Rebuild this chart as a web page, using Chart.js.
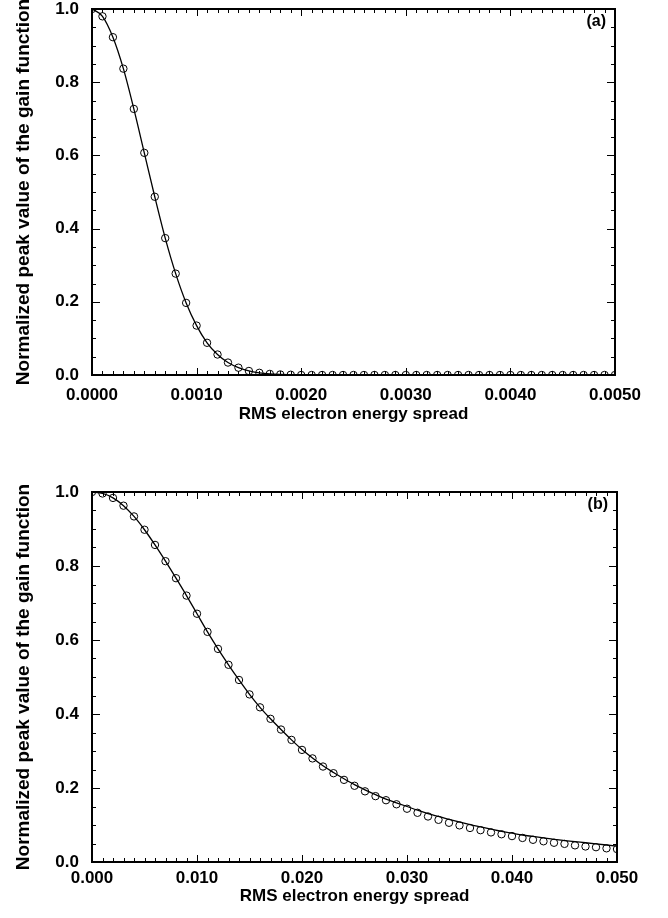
<!DOCTYPE html>
<html>
<head>
<meta charset="utf-8">
<script src="https://cdn.jsdelivr.net/npm/chart.js@4.4.0/dist/chart.umd.min.js"></script>
<style>
  body { margin: 0; background: #fff; }
  .box { position: absolute; left: 0; width: 668px; height: 459px; }
</style>
</head>
<body>
<div class="box" style="top:0px"><canvas id="chartA" width="668" height="459"></canvas></div>
<div class="box" style="top:459px"><canvas id="chartB" width="668" height="459"></canvas></div>
<script>
// panel (a): energy spread 0 .. 0.005
var spreadA = [
  0.0000, 0.0001, 0.0002, 0.0003, 0.0004, 0.0005, 0.0006, 0.0007, 0.0008, 0.0009,
  0.0010, 0.0011, 0.0012, 0.0013, 0.0014, 0.0015, 0.0016, 0.0017, 0.0018, 0.0019,
  0.0020, 0.0021, 0.0022, 0.0023, 0.0024, 0.0025, 0.0026, 0.0027, 0.0028, 0.0029,
  0.0030, 0.0031, 0.0032, 0.0033, 0.0034, 0.0035, 0.0036, 0.0037, 0.0038, 0.0039,
  0.0040, 0.0041, 0.0042, 0.0043, 0.0044, 0.0045, 0.0046, 0.0047, 0.0048, 0.0049,
  0.0050
];
var gainA = [
  1.000, 0.980, 0.923, 0.837, 0.727, 0.607, 0.487, 0.374, 0.277, 0.197,
  0.135, 0.088, 0.056, 0.034, 0.020, 0.011, 0.006, 0.003, 0.0015, 0.0007,
  0, 0, 0, 0, 0, 0, 0, 0, 0, 0,
  0, 0, 0, 0, 0, 0, 0, 0, 0, 0,
  0, 0, 0, 0, 0, 0, 0, 0, 0, 0,
  0
];
var ticksA = [0.0000, 0.0010, 0.0020, 0.0030, 0.0040, 0.0050];

// panel (b): energy spread 0 .. 0.05
var spreadB = [
  0.000, 0.001, 0.002, 0.003, 0.004, 0.005, 0.006, 0.007, 0.008, 0.009,
  0.010, 0.011, 0.012, 0.013, 0.014, 0.015, 0.016, 0.017, 0.018, 0.019,
  0.020, 0.021, 0.022, 0.023, 0.024, 0.025, 0.026, 0.027, 0.028, 0.029,
  0.030, 0.031, 0.032, 0.033, 0.034, 0.035, 0.036, 0.037, 0.038, 0.039,
  0.040, 0.041, 0.042, 0.043, 0.044, 0.045, 0.046, 0.047, 0.048, 0.049,
  0.050
];
// circles
var gainB = [
  1.000, 0.996, 0.984, 0.963, 0.934, 0.898, 0.857, 0.813, 0.767, 0.720,
  0.671, 0.622, 0.576, 0.533, 0.492, 0.453, 0.418, 0.387, 0.358, 0.330,
  0.303, 0.280, 0.258, 0.240, 0.222, 0.206, 0.191, 0.178, 0.167, 0.156,
  0.144, 0.133, 0.123, 0.114, 0.106, 0.099, 0.092, 0.086, 0.080, 0.075,
  0.070, 0.065, 0.060, 0.056, 0.052, 0.049, 0.045, 0.042, 0.040, 0.037,
  0.035
];
// solid curve, sits a little above the circles in the tail
var curveB = [
  1.000, 0.996, 0.984, 0.963, 0.934, 0.898, 0.857, 0.813, 0.767, 0.720,
  0.671, 0.622, 0.576, 0.533, 0.492, 0.453, 0.418, 0.387, 0.358, 0.330,
  0.304, 0.281, 0.260, 0.242, 0.225, 0.209, 0.195, 0.182, 0.170, 0.160,
  0.150, 0.140, 0.131, 0.123, 0.115, 0.108, 0.101, 0.095, 0.089, 0.083,
  0.078, 0.073, 0.069, 0.065, 0.061, 0.058, 0.055, 0.052, 0.049, 0.046,
  0.043
];
var ticksB = [0.000, 0.010, 0.020, 0.030, 0.040, 0.050];
var ticksY = [0.0, 0.2, 0.4, 0.6, 0.8, 1.0];

var FONT = "'Liberation Sans', Arial, Helvetica, sans-serif";

function pairs(xs, ys) {
  return xs.map(function (x, i) { return { x: x, y: ys[i] }; });
}

// box, inward ticks on all four sides and the panel letter
var frameTicks = {
  id: 'frameTicks',
  afterDraw: function (chart, args, opts) {
    var ctx = chart.ctx, a = chart.chartArea;
    var x = chart.scales.x, y = chart.scales.y;
    ctx.save();
    ctx.strokeStyle = '#000';
    ctx.lineWidth = 1;
    var nx = Math.round((x.max - x.min) / opts.xMinor);
    for (var i = 0; i <= nx; i++) {
      var px = Math.round(x.getPixelForValue(x.min + i * opts.xMinor)) + 0.5;
      var len = (i % opts.xEvery === 0) ? 7 : 4;
      ctx.beginPath();
      ctx.moveTo(px, a.bottom); ctx.lineTo(px, a.bottom - len);
      ctx.moveTo(px, a.top); ctx.lineTo(px, a.top + len);
      ctx.stroke();
    }
    var ny = Math.round((y.max - y.min) / opts.yMinor);
    for (var j = 0; j <= ny; j++) {
      var py = Math.round(y.getPixelForValue(y.min + j * opts.yMinor)) + 0.5;
      var ylen = (j % opts.yEvery === 0) ? 8 : 4;
      ctx.beginPath();
      ctx.moveTo(a.left, py); ctx.lineTo(a.left + ylen, py);
      ctx.moveTo(a.right, py); ctx.lineTo(a.right - ylen, py);
      ctx.stroke();
    }
    ctx.lineWidth = 2;
    ctx.strokeRect(a.left, a.top, a.right - a.left, a.bottom - a.top);
    ctx.fillStyle = '#000';
    ctx.font = 'bold 16px ' + FONT;
    ctx.textAlign = 'right';
    ctx.textBaseline = 'top';
    ctx.fillText(opts.label, a.right - 9, a.top + 5);
    ctx.restore();
  }
};

function makeChart(id, cfg) {
  var ctx = document.getElementById(id);
  return new Chart(ctx, {
    type: 'line',
    data: {
      datasets: [{
        label: 'curve',
        data: pairs(cfg.xs, cfg.line),
        borderColor: '#000',
        borderWidth: 1.3,
        pointRadius: 0,
        cubicInterpolationMode: 'monotone',
        fill: false
      }, {
        label: 'points',
        data: pairs(cfg.xs, cfg.pts),
        showLine: false,
        pointStyle: 'circle',
        pointRadius: 3.7,
        pointBorderWidth: 1,
        pointBorderColor: '#000',
        pointBackgroundColor: 'rgba(0,0,0,0)'
      }]
    },
    options: {
      responsive: false,
      animation: false,
      events: [],
      layout: { padding: { left: 0, top: cfg.top, right: cfg.right, bottom: 0 } },
      plugins: {
        legend: { display: false },
        tooltip: { enabled: false },
        frameTicks: { label: cfg.label, xMinor: cfg.xMinor, xEvery: 10, yMinor: 0.05, yEvery: 4 }
      },
      scales: {
        x: {
          type: 'linear',
          min: cfg.xs[0],
          max: cfg.xs[cfg.xs.length - 1],
          grid: { display: false },
          border: { display: false },
          afterBuildTicks: function (s) { s.ticks = cfg.xticks.map(function (v) { return { value: v }; }); },
          ticks: {
            color: '#000',
            padding: cfg.tickPad,
            maxRotation: 0,
            autoSkip: false,
            font: { family: FONT, size: 17, weight: 'bold' },
            callback: function (v) { return v.toFixed(cfg.digits); }
          },
          title: {
            display: true,
            text: 'RMS electron energy spread',
            color: '#000',
            font: { family: FONT, size: 17, weight: 'bold' },
            padding: { top: 0, bottom: cfg.titlePad }
          },
          afterFit: function (s) {
            s.height = cfg.xHeight;
            s.paddingLeft = 0; s.paddingRight = 0;
          }
        },
        y: {
          min: 0,
          max: 1,
          grid: { display: false },
          border: { display: false },
          afterBuildTicks: function (s) { s.ticks = ticksY.map(function (v) { return { value: v }; }); },
          ticks: {
            color: '#000',
            padding: 5,
            font: { family: FONT, size: 17, weight: 'bold' },
            callback: function (v) { return v.toFixed(1); }
          },
          title: {
            display: true,
            text: 'Normalized peak value of the gain function',
            color: '#000',
            font: { family: FONT, size: 19, weight: 'bold' },
            padding: { top: 12, bottom: 0 }
          },
          afterFit: function (s) {
            s.width = 92;
            s.paddingTop = 0; s.paddingBottom = 0;
          }
        }
      }
    },
    plugins: [frameTicks]
  });
}

var chartA = makeChart('chartA', {
  xs: spreadA, line: gainA, pts: gainA, xticks: ticksA, digits: 4, xMinor: 0.0001,
  label: '(a)', top: 9, right: 53, xHeight: 84, titlePad: 34, tickPad: 2
});
var chartB = makeChart('chartB', {
  xs: spreadB, line: curveB, pts: gainB, xticks: ticksB, digits: 3, xMinor: 0.001,
  label: '(b)', top: 33, right: 51, xHeight: 56, titlePad: 11, tickPad: -2
});
</script>
</body>
</html>
